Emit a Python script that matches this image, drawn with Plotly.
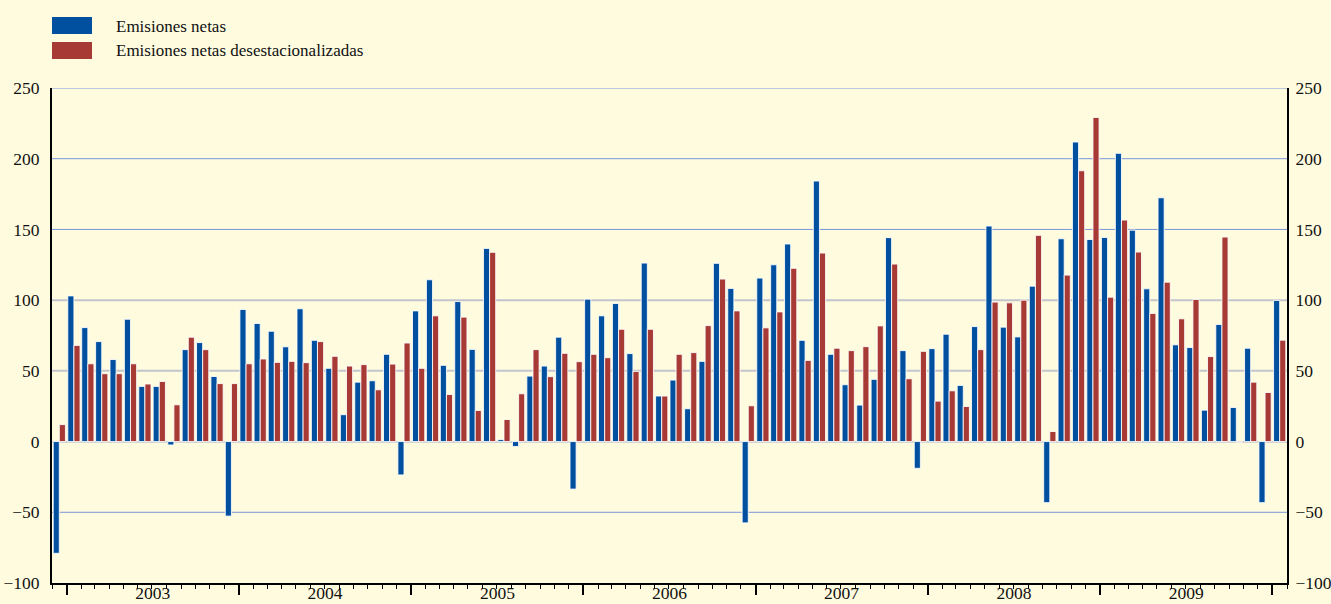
import pandas as pd
import plotly.graph_objects as go

# Monthly periods: Dec 2002 ... Jan 2010
months = pd.date_range("2002-12-01", periods=86, freq="MS")

emisiones_netas = [
    -79,
    103, 80.6, 70.7, 58, 86.5, 39, 39, -2.4, 65, 70, 46, -52.7,
    93.4, 83.5, 78, 67, 93.9, 71.6, 51.8, 19, 42, 43, 61.7, -23.6,
    92.4, 114.4, 53.9, 99, 65.2, 136.6, 1.4, -3.5, 46.3, 53.4, 73.8, -33.6,
    100.7, 88.9, 97.6, 62.2, 126.2, 32.2, 43.5, 23.2, 56.7, 126, 108.3, -57.5,
    115.6, 125, 139.7, 71.6, 184.2, 61.7, 40.2, 25.8, 44, 144.2, 64.3, -18.9,
    65.7, 75.9, 39.7, 81.3, 152.4, 80.9, 74, 109.9, -43.2, 143.4, 211.8, 142.9,
    144.3, 203.8, 149.5, 108, 172.4, 68.4, 66.5, 22.2, 82.8, 24.1, 66, -43.2,
    99.8,
]

emisiones_desest = [
    12,
    68, 55, 48, 48, 55, 40.7, 42.5, 26, 73.8, 65, 41, 41,
    55, 58.4, 56, 56.7, 55.8, 70.7, 60.3, 53.4, 54.4, 36.6, 54.8, 69.7,
    51.8, 88.9, 33.3, 88, 22, 133.8, 15.6, 33.8, 65, 45.9, 62.4, 56.5,
    61.7, 59.3, 79.4, 49.6, 79.4, 32.2, 61.7, 62.9, 82, 114.9, 92.4, 25.3,
    80.4, 91.7, 122.5, 57.4, 133.3, 66, 64.3, 67.1, 81.8, 125.5, 44.4, 63.8,
    28.6, 35.9, 24.8, 65, 98.6, 98.1, 100, 145.8, 7.1, 117.7, 191.5, 229.2,
    102.1, 156.6, 134, 90.6, 112.7, 86.8, 100.5, 60.1, 144.6, -0.7, 42, 34.7,
    71.7,
]

series_names = ["Emisiones netas", "Emisiones netas desestacionalizadas"]
series_colors = ["#00509F", "#A83A35"]
y_ticks = [-100, -50, 0, 50, 100, 150, 200, 250]
grey_grid = [50, 100]

BG = "#FFFBDF"
FONT = "Liberation Serif, Times New Roman, serif"

fig = go.Figure()
for name, vals, col in zip(series_names, [emisiones_netas, emisiones_desest], series_colors):
    fig.add_trace(go.Bar(
        x=months, y=vals, name=name, xperiod="M1", xperiodalignment="middle",
        marker=dict(color=col, line=dict(color="rgba(255,255,255,0.85)", width=1)),
        showlegend=False,
    ))

# horizontal gridlines (blue, except grey at 50 and 100)
shapes = []
for yv in y_ticks:
    if yv in (0, -100):
        continue
    grey = yv in grey_grid
    shapes.append(dict(type="line", xref="paper", x0=0, x1=1, yref="y", y0=yv, y1=yv,
                       line=dict(color="#C2C5CC" if grey else "#7A96D8", width=2 if grey else 1),
                       layer="below"))

# legend swatches
L, R, T, B = 52, 1287, 88, 583
def px(xp):
    return (xp - L) / (R - L)
def py(yp):
    return (B - yp) / (B - T)

annotations = []
for i, (name, col) in enumerate(zip(series_names, series_colors)):
    top = 17 + i * 25
    shapes.append(dict(type="rect", xref="paper", yref="paper",
                       x0=px(52), x1=px(92), y0=py(top), y1=py(top + 17),
                       fillcolor=col, line=dict(width=0)))
    annotations.append(dict(xref="paper", yref="paper", x=px(114), y=py(top + 9),
                            text=name, showarrow=False, xanchor="left", yanchor="middle",
                            font=dict(family=FONT, size=17, color="#111")))

def tf():
    return dict(family=FONT, size=17.5, color="#111")

fig.update_layout(
    width=1331, height=604,
    font=dict(family=FONT, size=17.5, color="#111"),
    margin=dict(l=L, r=1331 - R, t=T, b=604 - B, pad=0, autoexpand=False),
    paper_bgcolor=BG, plot_bgcolor=BG,
    barmode="group", bargap=0.12, bargroupgap=0.0,
    shapes=shapes, annotations=annotations,
    xaxis=dict(
        type="date", range=["2002-12-01", "2010-02-01"], automargin=False,
        tick0="2003-01-01", dtick="M12", tickformat="%Y", ticklabelmode="period",
        ticks="outside", ticklen=10, tickwidth=1.5, tickcolor="black",
        showline=True, linecolor="black", linewidth=1.5, showgrid=False,
        ticklabelstandoff=-17,
        minor=dict(dtick="M1", tick0="2002-12-01", ticks="outside", ticklen=4,
                   tickcolor="black", tickwidth=1, showgrid=False),
        tickfont=tf(),
    ),
    yaxis=dict(
        range=[-100, 250], tickvals=y_ticks, showgrid=False,
        zeroline=True, zerolinecolor="#D4D4D4", zerolinewidth=2, automargin=False,
        showline=True, linecolor="black", linewidth=2, ticks="", ticklabelstandoff=7,
        tickfont=tf(),
    ),
    yaxis2=dict(
        range=[-100, 250], tickvals=y_ticks, overlaying="y", side="right", matches="y",
        showgrid=False, zeroline=False, showline=True, linecolor="black", linewidth=2,
        ticks="", ticklabelstandoff=3, tickfont=tf(), automargin=False,
    ),
)

# invisible trace to anchor the right axis
fig.add_trace(go.Scatter(x=[months[0]], y=[None], yaxis="y2", showlegend=False,
                         hoverinfo="skip", mode="markers", marker=dict(opacity=0)))

fig.write_html("out.html", config={"displayModeBar": False})

# remove default page margin so the figure sits at the window origin
with open("out.html", "r", encoding="utf-8") as f:
    html = f.read()
html = html.replace("<body>", '<body style="margin:0;padding:0;overflow:hidden">', 1)
with open("out.html", "w", encoding="utf-8") as f:
    f.write(html)
